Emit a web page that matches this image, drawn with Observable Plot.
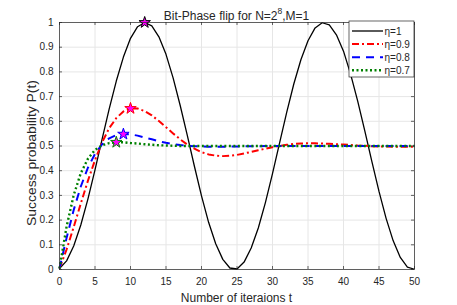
<!DOCTYPE html>
<html>
<head>
<meta charset="utf-8">
<script src="https://cdn.jsdelivr.net/npm/d3@7"></script>
<script src="https://cdn.jsdelivr.net/npm/@observablehq/plot@0.6"></script>
<style>
  html, body { margin: 0; padding: 0; background: white; }
  #chart { width: 457px; height: 305px; }
</style>
</head>
<body>
<div id="chart"></div>
<script>
const t = [0,1,2,3,4,5,6,7,8,9,10,11,12,13,14,15,16,17,18,19,20,21,22,23,24,25,26,27,28,29,30,31,32,33,34,35,36,37,38,39,40,41,42,43,44,45,46,47,48,49,50];
const pEta1 = [0.004,0.035,0.095,0.180,0.285,0.403,0.528,0.650,0.763,0.860,0.936,0.983,1.000,0.986,0.942,0.871,0.776,0.664,0.543,0.418,0.298,0.191,0.104,0.041,0.006,0.002,0.030,0.087,0.168,0.271,0.388,0.513,0.636,0.751,0.849,0.926,0.978,0.999,0.990,0.950,0.884,0.791,0.682,0.561,0.437,0.316,0.207,0.116,0.049,0.010,0.001];
const pEta09 = [0.004,0.081,0.172,0.267,0.359,0.443,0.515,0.572,0.613,0.640,0.652,0.652,0.641,0.624,0.601,0.576,0.551,0.527,0.506,0.489,0.475,0.466,0.461,0.459,0.461,0.464,0.470,0.476,0.483,0.489,0.495,0.500,0.505,0.508,0.510,0.511,0.511,0.510,0.509,0.507,0.506,0.504,0.502,0.501,0.499,0.498,0.498,0.497,0.497,0.497,0.497];
const pEta08 = [0.004,0.128,0.241,0.336,0.412,0.468,0.507,0.531,0.544,0.548,0.547,0.542,0.534,0.527,0.519,0.513,0.508,0.504,0.501,0.499,0.498,0.497,0.497,0.497,0.498,0.498,0.499,0.499,0.499,0.500,0.500,0.500,0.500,0.500,0.500,0.500,0.500,0.500,0.500,0.500,0.500,0.500,0.500,0.500,0.500,0.500,0.500,0.500,0.500,0.500,0.500];
const pEta07 = [0.004,0.174,0.301,0.390,0.448,0.484,0.503,0.512,0.515,0.515,0.512,0.510,0.507,0.505,0.503,0.502,0.501,0.500,0.500,0.500,0.500,0.500,0.500,0.500,0.500,0.500,0.500,0.500,0.500,0.500,0.500,0.500,0.500,0.500,0.500,0.500,0.500,0.500,0.500,0.500,0.500,0.500,0.500,0.500,0.500,0.500,0.500,0.500,0.500,0.500,0.500];
const seriesNames = ["η=1","η=0.9","η=0.8","η=0.7"];
const seriesColors = ["#000000","#ff0000","#0000ff","#008000"];
const seriesDash = [null,"7,3,2,3","8,6","2,2.5"];
const seriesWidth = [1.3,2,2,2.4];
const peakT = [12,10,9,8];
const xTicks = [0,5,10,15,20,25,30,35,40,45,50];
const yTicks = [0,0.1,0.2,0.3,0.4,0.5,0.6,0.7,0.8,0.9,1];
const titleMain = "Bit-Phase flip for N=2";
const titleSup = "8";
const titleEnd = ",M=1";
const xLabel = "Number of iteraions t";
const yLabel = "Success probability P(t)";

const values = [pEta1, pEta09, pEta08, pEta07];
const W = 457, H = 305, mL = 59, mR = 43, mT = 22, mB = 36;
const pw = W - mL - mR, ph = H - mT - mB;

const marks = [];
values.forEach((v, k) => {
  marks.push(Plot.line(v, {
    x: (d, i) => t[i], y: d => d,
    stroke: seriesColors[k], strokeWidth: seriesWidth[k],
    strokeDasharray: seriesDash[k], strokeLinecap: "butt", strokeLinejoin: "round"
  }));
  marks.push(Plot.dot([peakT[k]], {
    x: d => d, y: d => v[t.indexOf(d)], symbol: "star", r: 3.6,
    fill: "#ff00ff", stroke: seriesColors[k], strokeWidth: 1
  }));
});

const chart = Plot.plot({
  width: W, height: H,
  marginLeft: mL, marginRight: mR, marginTop: mT, marginBottom: mB,
  x: {domain: [0, 50]},
  y: {domain: [0, 1]},
  style: {fontFamily: "'Liberation Sans', Arial, sans-serif", fontSize: "10px", color: "#262626", background: "white"},
  marks: [
    Plot.gridX(xTicks, {stroke: "#e6e6e6", strokeOpacity: 1, strokeWidth: 1}),
    Plot.gridY(yTicks, {stroke: "#e6e6e6", strokeOpacity: 1, strokeWidth: 1}),
    ...marks,
    Plot.ruleX(xTicks, {x: d => d, insetTop: ph - 3, stroke: "#262626", strokeWidth: 0.7}),
    Plot.ruleX(xTicks, {x: d => d, insetBottom: ph - 3, stroke: "#262626", strokeWidth: 0.7}),
    Plot.ruleY(yTicks, {y: d => d, insetRight: pw - 3, stroke: "#262626", strokeWidth: 0.7}),
    Plot.ruleY(yTicks, {y: d => d, insetLeft: pw - 3, stroke: "#262626", strokeWidth: 0.7}),
    Plot.frame({stroke: "#262626", strokeWidth: 0.7}),
    Plot.axisX(xTicks, {anchor: "bottom", tickSize: 0, tickPadding: 8, label: null, fill: "#262626", tickFormat: d => String(d)}),
    Plot.axisY(yTicks, {anchor: "left", tickSize: 0, tickPadding: 6, label: null, fill: "#262626", tickFormat: d => String(d)})
  ]
});
document.getElementById("chart").appendChild(chart);

const svg = d3.select(chart);
const ff = "'Liberation Sans', Arial, sans-serif";
// title
const tt = svg.append("text").attr("x", mL + pw / 2).attr("y", 19.5)
  .attr("text-anchor", "middle").attr("font-family", ff).attr("font-size", 12).attr("fill", "#262626");
tt.append("tspan").text(titleMain);
tt.append("tspan").attr("dy", -5.5).attr("font-size", 8.5).text(titleSup);
tt.append("tspan").attr("dy", 5.5).text(titleEnd);
// axis labels
svg.append("text").attr("x", mL + pw / 2).attr("y", 301.5)
  .attr("text-anchor", "middle").attr("font-family", ff).attr("font-size", 12).attr("fill", "#262626").text(xLabel);
svg.append("text").attr("transform", "translate(36,153) rotate(-90)")
  .attr("text-anchor", "middle").attr("font-family", ff).attr("font-size", 12.5).attr("fill", "#262626")
  .attr("textLength", 146).attr("lengthAdjust", "spacingAndGlyphs").text(yLabel);
// legend
const lg = svg.append("g");
lg.append("rect").attr("x", 349).attr("y", 21).attr("width", W - mR - 349).attr("height", 56)
  .attr("fill", "white").attr("stroke", "#262626").attr("stroke-width", 0.7);
seriesNames.forEach((name, k) => {
  const yy = 31 + k * 13.1;
  lg.append("line").attr("x1", 352).attr("x2", 383).attr("y1", yy).attr("y2", yy)
    .attr("stroke", seriesColors[k]).attr("stroke-width", seriesWidth[k])
    .attr("stroke-dasharray", seriesDash[k]);
  lg.append("text").attr("x", 384.5).attr("y", yy + 4).attr("text-anchor", "start")
    .attr("font-family", ff).attr("font-size", 10)
    .attr("fill", "#262626").text(name);
});
</script>
</body>
</html>
